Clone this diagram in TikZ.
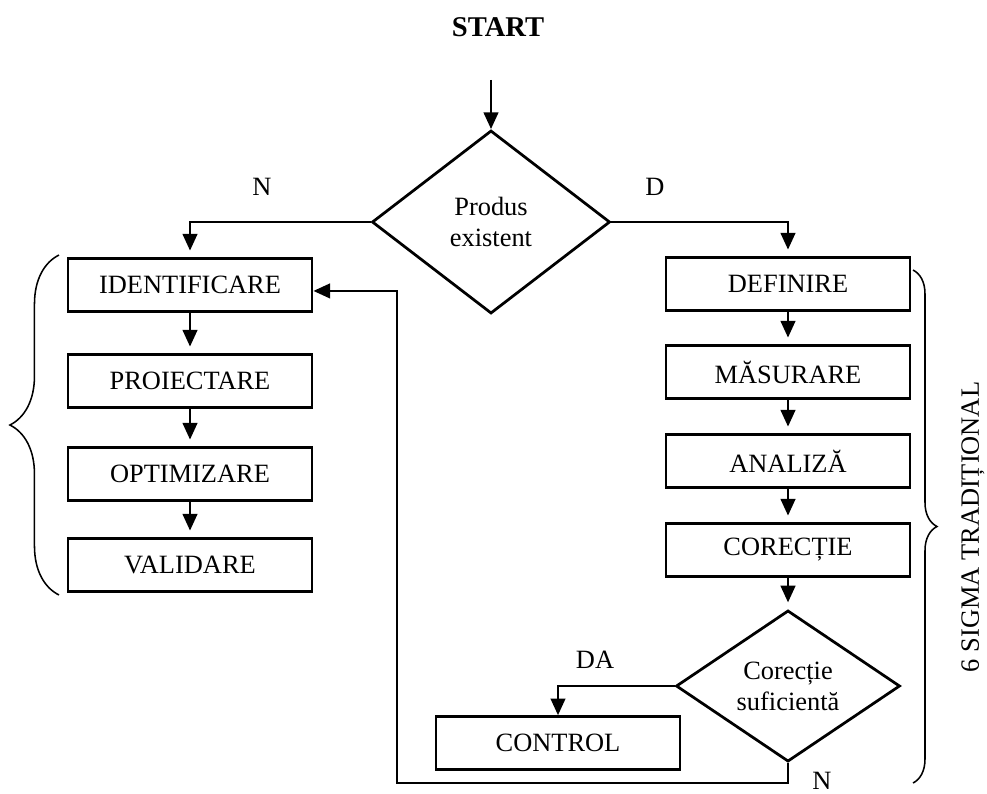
\documentclass[tikz,border=0pt]{standalone}
\usepackage{fontspec}
\setmainfont{Liberation Serif}
\usepackage{tikz}
\usetikzlibrary{arrows.meta,shapes.geometric,decorations.pathreplacing}

\begin{document}
\begin{tikzpicture}[
    x=0.4545pt,y=-0.4545pt,
    stepbox/.style={draw=black, line width=1.25pt, minimum width=110.9pt, minimum height=24pt, inner sep=2pt, align=center, font=\fontsize{12}{14}\selectfont},
    decision/.style={draw=black, diamond, line width=1.25pt, inner sep=0pt, align=center, font=\fontsize{12}{14}\selectfont},
    tag/.style={font=\fontsize{12}{14}\selectfont},
    edge/.style={-{Triangle[length=7.6pt,width=6.6pt]}, draw=black, line width=1.2pt},
    gapedge/.style={edge, shorten >=3pt},
    bracket/.style={draw=black, line width=0.7pt, decorate, decoration={brace, amplitude=#1}}
  ]
    \useasboundingbox (0,0) rectangle (987,793);

    \node[font=\fontsize{13}{15}\selectfont\bfseries] (start) at (498,27) {START};
    \coordinate (startarrow) at (491,80);
    \node[decision, minimum width=108.2pt, minimum height=83.2pt] (prod) at (491,222) {Produs\\existent};
    \node[tag] (nlabel) at (262,187) {N};
    \node[tag] (dlabel) at (655,187) {D};

    % ramura N
    \node[stepbox] (ident) at (190,285) {IDENTIFICARE};
    \node[stepbox] (proiect) at (190,381) {PROIECTARE};
    \node[stepbox] (optim) at (190,474) {OPTIMIZARE};
    \node[stepbox] (valid) at (190,565) {VALIDARE};

    % ramura D
    \node[stepbox] (defin) at (788,284) {DEFINIRE};
    \node[stepbox] (masur) at (788,372) {MĂSURARE};
    \node[stepbox] (analiz) at (788,461) {ANALIZĂ};
    \node[stepbox] (corect) at (788,550) {CORECȚIE};
    \node[decision, minimum width=101.8pt, minimum height=65.9pt] (coresuf) at (788,686) {Corecție\\suficientă};
    \node[stepbox] (control) at (558,743) {CONTROL};
    \node[tag] (dalabel) at (595,660) {DA};
    \node[tag] (nloop) at (822,781) {N};
    \coordinate (loopcorner) at (397,783);

    \draw[edge] (startarrow) -- (prod.north);
    \draw[gapedge] (prod.west) -| (ident.north);
    \draw[gapedge] (prod.east) -| (defin.north);
    \draw[gapedge] (ident.south) -- (proiect.north);
    \draw[gapedge] (proiect.south) -- (optim.north);
    \draw[gapedge] (optim.south) -- (valid.north);
    \draw[gapedge] (defin.south) -- (masur.north);
    \draw[gapedge] (masur.south) -- (analiz.north);
    \draw[gapedge] (analiz.south) -- (corect.north);
    \draw[gapedge] (corect.south) -- (coresuf.north);
    \draw[edge] (coresuf.west) -| (control.north);
    \draw[edge] (coresuf.south) |- (loopcorner) |- ([yshift=-2.7pt]ident.east);

    % acolade
    \coordinate (lbbot) at (59,595);
    \coordinate (lbtop) at (59,255);
    \draw[bracket=22.3pt] (lbbot) -- (lbtop);
    \coordinate (rbtop) at (913,270);
    \coordinate (rbbot) at (913,783);
    \draw[bracket=10.9pt] (rbtop) -- (rbbot);
    \node[tag, rotate=90] (sigma) at (973,527) {6 SIGMA TRADIȚIONAL};
\end{tikzpicture}
\end{document}
